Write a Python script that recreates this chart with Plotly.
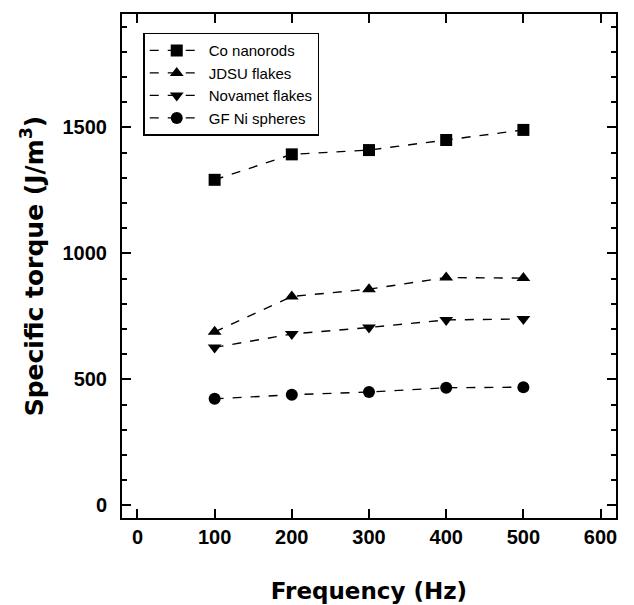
import plotly.graph_objects as go

freq = [100, 200, 300, 400, 500]
co_nanorods = [1292, 1393, 1410, 1450, 1490]
jdsu_flakes = [689, 829, 858, 904, 902]
novamet_flakes = [627, 680, 706, 736, 740]
gf_ni_spheres = [423, 439, 450, 467, 469]

x_ticks = [0, 100, 200, 300, 400, 500, 600]
y_ticks = [0, 500, 1000, 1500]
y_minor = [100, 200, 300, 400, 600, 700, 800, 900, 1100, 1200, 1300, 1400, 1600, 1700, 1800, 1900]

series = [
    ("Co nanorods", co_nanorods, "square"),
    ("JDSU flakes", jdsu_flakes, "triangle-up"),
    ("Novamet flakes", novamet_flakes, "triangle-down"),
    ("GF Ni spheres", gf_ni_spheres, "circle"),
]

fig = go.Figure()
for name, vals, sym in series:
    fig.add_trace(go.Scatter(
        x=freq, y=vals, name=name, mode="lines+markers",
        line=dict(color="black", width=1.4, dash="dash"),
        marker=dict(symbol=sym, size=12, color="black"),
    ))

font = "Liberation Sans, Arial, sans-serif"
title_font = "DejaVu Sans, Liberation Sans, sans-serif"
axis_common = dict(
    showline=True, linecolor="black", linewidth=2, mirror="allticks",
    ticks="inside", ticklen=9, tickwidth=1.5, tickcolor="black",
    showgrid=False, zeroline=False,
    tickfont=dict(family=font, size=20, color="black", weight="bold"),
)

fig.update_layout(
    width=626, height=597,
    margin=dict(l=114, r=18, t=4, b=87),
    paper_bgcolor="white", plot_bgcolor="white",
    showlegend=True,
    legend=dict(
        x=0.043, y=0.963, xanchor="left", yanchor="top",
        bordercolor="black", borderwidth=1.5, bgcolor="white",
        font=dict(family=font, size=15, color="black"),
        tracegroupgap=0, itemwidth=54,
    ),
    xaxis=dict(
        range=[-20, 620], tickvals=x_ticks,
        title=dict(text="Frequency (Hz)", font=dict(family=title_font, size=23, color="black", weight="bold"), standoff=36),
        **axis_common,
    ),
    yaxis=dict(
        range=[-50, 1950], tickvals=y_ticks,
        minor=dict(tickvals=y_minor, ticks="inside", ticklen=5, tickwidth=1.5, tickcolor="black"),
        title=dict(text="Specific torque (J/m<sup>3</sup>)", font=dict(family=title_font, size=25, color="black", weight="bold"), standoff=12),
        ticklabelstandoff=9,
        **axis_common,
    ),
)

fig.write_html("out.html")
